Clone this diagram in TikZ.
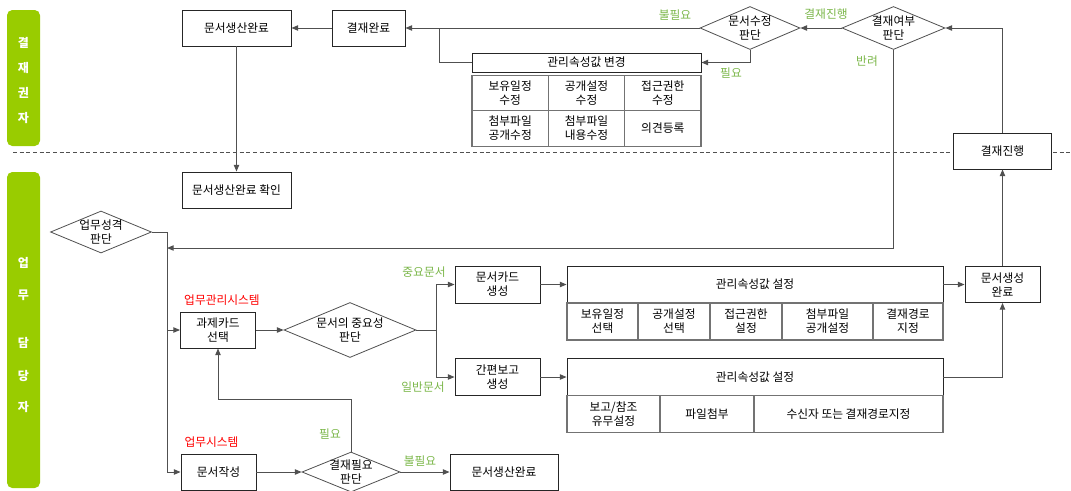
\documentclass[tikz,border=0pt]{standalone}
\usepackage{fontspec}
\setmainfont{Noto Sans CJK KR}
\usetikzlibrary{arrows.meta,shapes.geometric}
\definecolor{lanegreen}{RGB}{153,204,0}
\definecolor{lblgreen}{RGB}{122,182,72}
\definecolor{linegray}{RGB}{80,80,80}

\begin{document}
\begin{tikzpicture}[x=0.75pt,y=-0.75pt,
    font=\fontsize{8.8pt}{10.5pt}\selectfont,
    box/.style={draw=black!85, line width=0.65pt, fill=white, align=center, inner sep=1pt, minimum height=27pt},
    cell/.style={draw=black!55, line width=1pt, align=center, inner sep=1pt, minimum height=26.6pt},
    dec/.style={diamond, draw=linegray, line width=0.6pt, inner sep=0pt, fill=white},
    dtext/.style={align=center, inner sep=0pt},
    conn/.style={draw=linegray, line width=0.75pt},
    arr/.style={conn, -{Triangle[length=5pt,width=4pt]}},
    lbl/.style={text=lblgreen, inner sep=0pt},
    sys/.style={text=red, inner sep=0pt},
    lane/.style={fill=lanegreen, rounded corners=4pt},
    lanetext/.style={text=white, inner sep=0pt, font=\fontsize{9pt}{10pt}\selectfont\bfseries}]
        \useasboundingbox (0,0) rectangle (1071,490);
        \clip (0,0) rectangle (1071,490);
        % レーン
        \fill[lane] (7,10) rectangle (40,146);
        \fill[lane] (7,172) rectangle (40,488);
        \node[lanetext] (k1) at (23.5,43) {결};
        \node[lanetext] (k2) at (23.5,68) {재};
        \node[lanetext] (k3) at (23.5,93) {권};
        \node[lanetext] (k4) at (23.5,118) {자};
        \node[lanetext] (k5) at (23.5,263) {업};
        \node[lanetext] (k6) at (23.5,295) {무};
        \node[lanetext] (k7) at (23.5,343) {담};
        \node[lanetext] (k8) at (23.5,376) {당};
        \node[lanetext] (k9) at (23.5,407) {자};
        \draw[linegray, line width=0.7pt, dash pattern=on 3pt off 2pt] (13,152)--(1071,152);
        % 결재권자
        \node[box, minimum width=81.75pt] (PD1) at (236.5,28) {문서생산완료};
        \node[box, minimum width=54.75pt] (AC) at (368.5,28) {결재완료};
        \node[box, minimum width=171.75pt, minimum height=14.25pt] (CH) at (586.5,62.5) {관리속성값 변경};
        \node[cell, minimum width=57.25pt] (CH1) at (510.2,93) {보유일정\\수정};
        \node[cell, minimum width=57.25pt] (CH2) at (586.5,93) {공개설정\\수정};
        \node[cell, minimum width=57.25pt] (CH3) at (662.8,93) {접근권한\\수정};
        \node[cell, minimum width=57.25pt] (CH4) at (510.2,128.5) {첨부파일\\공개수정};
        \node[cell, minimum width=57.25pt] (CH5) at (586.5,128.5) {첨부파일\\내용수정};
        \node[cell, minimum width=57.25pt] (CH6) at (662.8,128.5) {의견등록};
        \node[dec, minimum width=75pt, minimum height=32.25pt, label={[dtext]center:문서수정\\판단}] (ED) at (750,28) {};
        \node[dec, minimum width=77.25pt, minimum height=32.25pt, label={[dtext]center:결재여부\\판단}] (AJ) at (893.5,28) {};
        \node[box, minimum width=73.5pt] (AP) at (1002.5,151) {결재진행};
        % 업무담당자
        \node[box, minimum width=81.75pt] (PC) at (236.5,190) {문서생산완료 확인};
        \node[dec, minimum width=75.75pt, minimum height=31.5pt, label={[dtext]center:업무성격\\판단}] (TJ) at (101,232) {};
        \node[box, minimum width=56.25pt] (TC) at (218,330) {과제카드\\선택};
        \node[dec, minimum width=99pt, minimum height=41.25pt, label={[dtext]center:문서의 중요성\\판단}] (IJ) at (350,330) {};
        \node[box, minimum width=63.75pt, minimum height=27.75pt] (DC) at (497.5,284.5) {문서카드\\생성};
        \node[box, minimum width=63.75pt, minimum height=27.75pt] (QR) at (497.5,377) {간편보고\\생성};
        \node[box, minimum width=282pt, minimum height=27.75pt] (SA) at (755,284.5) {관리속성값 설정};
        \node[cell, minimum width=53.25pt, minimum height=27.75pt] (SA1) at (602.5,321.5) {보유일정\\선택};
        \node[cell, minimum width=54pt, minimum height=27.75pt] (SA2) at (674,321.5) {공개설정\\선택};
        \node[cell, minimum width=54pt, minimum height=27.75pt] (SA3) at (746,321.5) {접근권한\\설정};
        \node[cell, minimum width=68.25pt, minimum height=27.75pt] (SA4) at (827.5,321.5) {첨부파일\\공개설정};
        \node[cell, minimum width=52.5pt, minimum height=27.75pt] (SA5) at (908,321.5) {결재경로\\지정};
        \node[box, minimum width=56.25pt] (DD) at (1002.5,284.5) {문서생성\\완료};
        \node[box, minimum width=282pt, minimum height=27.75pt] (SB) at (755,377) {관리속성값 설정};
        \node[cell, minimum width=69.75pt, minimum height=27.75pt] (SB1) at (613.5,414) {보고/참조\\유무설정};
        \node[cell, minimum width=70.5pt, minimum height=27.75pt] (SB2) at (707,414) {파일첨부};
        \node[cell, minimum width=141.75pt, minimum height=27.75pt] (SB3) at (848.5,414) {수신자 또는 결재경로지정};
        \node[box, minimum width=56.25pt] (WR) at (218.5,472) {문서작성};
        \node[dec, minimum width=73.5pt, minimum height=30pt, label={[dtext]center:결재필요\\판단}] (NJ) at (351,472) {};
        \node[box, minimum width=81pt] (PD2) at (504,472) {문서생산완료};
        % 라벨
        \node[lbl] (n1) at (675,15) {불필요};
        \node[lbl] (n2) at (731,73) {필요};
        \node[lbl] (n3) at (826,14) {결재진행};
        \node[lbl] (n4) at (867,61) {반려};
        \node[lbl] (n5) at (424,272) {중요문서};
        \node[lbl] (n6) at (423,387) {일반문서};
        \node[lbl] (n7) at (330,434) {필요};
        \node[lbl] (n8) at (420,461) {불필요};
        \node[sys] (s1) at (222,300) {업무관리시스템};
        \node[sys] (s2) at (211.5,442) {업무시스템};
        % 연결
        \coordinate (M) at (439,28);
        \coordinate (R) at (167,248);
        \coordinate (T) at (167,232);
        \coordinate (S) at (436,330);
        \coordinate (L) at (351,399);
        \draw[arr] (AC.west)--(PD1.east);
        \draw[arr] (ED.west)--(AC.east);
        \draw[conn] (CH.west) -| (M);
        \draw[arr] (ED.south) |- (CH.east);
        \draw[arr] (AJ.west)--(ED.east);
        \draw[arr] (AJ.south) |- (R);
        \draw[arr] (AP.north) |- (AJ.east);
        \draw[arr] (DD.north)--(AP.south);
        \draw[arr] (PD1.south)--(PC.north);
        \draw[conn] (TJ.east)--(T);
        \draw[arr] (T) |- (TC.west);
        \draw[arr] (T) |- (WR.west);
        \draw[arr] (TC.east)--(IJ.west);
        \draw[conn] (IJ.east)--(S);
        \draw[arr] (S) |- (DC.west);
        \draw[arr] (S) |- (QR.west);
        \draw[arr] (DC.east)--(SA.west);
        \draw[arr] (SA.east)--(DD.west);
        \draw[arr] (QR.east)--(SB.west);
        \draw[arr] (SB.east) -| (DD.south);
        \draw[arr] (WR.east)--(NJ.west);
        \draw[arr] (NJ.east)--(PD2.west);
        \draw[arr] (NJ.north)--(L) -| (TC.south);
    \end{tikzpicture}
\end{document}
